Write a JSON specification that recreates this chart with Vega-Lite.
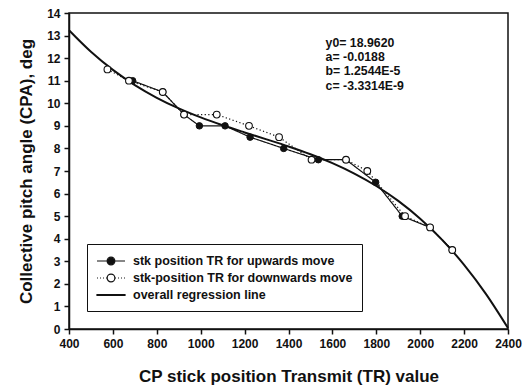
{
  "$schema": "https://vega.github.io/schema/vega-lite/v6.json",
  "width": 439,
  "height": 316,
  "autosize": {"type": "none"},
  "padding": {"left": 69, "top": 13, "right": 18, "bottom": 57},
  "background": "white",
  "config": {
    "font": "Arial, Liberation Sans, sans-serif",
    "view": {"stroke": "#111", "strokeWidth": 1.5},
    "axis": {
      "domainColor": "#111",
      "domainWidth": 1.5,
      "tickColor": "#111",
      "tickWidth": 1.5,
      "tickSize": 5,
      "grid": false,
      "labelFontSize": 12,
      "labelFontWeight": "bold",
      "labelColor": "#111",
      "labelFlush": false,
      "labelPadding": 4,
      "titleFontSize": 17,
      "titleFontWeight": "bold",
      "titleColor": "#111"
    },
    "legend": {
      "title": null,
      "orient": "none",
      "legendX": 18,
      "legendY": 231,
      "strokeColor": "#111",
      "fillColor": "white",
      "padding": 9,
      "rowPadding": 2,
      "symbolSize": 196,
      "symbolStrokeWidth": 1.2,
      "labelOffset": 21,
      "labelFontSize": 12.5,
      "labelFontWeight": "bold",
      "labelColor": "#111",
      "labelLimit": 400
    }
  },
  "data": {
    "values": [
      {"s": "overall regression line", "x": 400, "y": 13.2358},
      {"s": "overall regression line", "x": 500, "y": 12.2816},
      {"s": "overall regression line", "x": 600, "y": 11.4783},
      {"s": "overall regression line", "x": 700, "y": 10.8059},
      {"s": "overall regression line", "x": 800, "y": 10.2445},
      {"s": "overall regression line", "x": 900, "y": 9.7741},
      {"s": "overall regression line", "x": 1000, "y": 9.3746},
      {"s": "overall regression line", "x": 1100, "y": 9.0262},
      {"s": "overall regression line", "x": 1200, "y": 8.7087},
      {"s": "overall regression line", "x": 1300, "y": 8.4023},
      {"s": "overall regression line", "x": 1400, "y": 8.0869},
      {"s": "overall regression line", "x": 1500, "y": 7.7425},
      {"s": "overall regression line", "x": 1600, "y": 7.3492},
      {"s": "overall regression line", "x": 1700, "y": 6.887},
      {"s": "overall regression line", "x": 1800, "y": 6.3358},
      {"s": "overall regression line", "x": 1900, "y": 5.6758},
      {"s": "overall regression line", "x": 2000, "y": 4.8868},
      {"s": "overall regression line", "x": 2100, "y": 3.9489},
      {"s": "overall regression line", "x": 2200, "y": 2.8422},
      {"s": "overall regression line", "x": 2300, "y": 1.5466},
      {"s": "overall regression line", "x": 2400, "y": 0.0422},

      {"s": "stk position TR for upwards move", "x": 690, "y": 11},
      {"s": "stk position TR for upwards move", "x": 827, "y": 10.5},
      {"s": "stk position TR for upwards move", "x": 924, "y": 9.5},
      {"s": "stk position TR for upwards move", "x": 994, "y": 9},
      {"s": "stk position TR for upwards move", "x": 1111, "y": 9},
      {"s": "stk position TR for upwards move", "x": 1225, "y": 8.5},
      {"s": "stk position TR for upwards move", "x": 1378, "y": 8},
      {"s": "stk position TR for upwards move", "x": 1536, "y": 7.5},
      {"s": "stk position TR for upwards move", "x": 1662, "y": 7.5},
      {"s": "stk position TR for upwards move", "x": 1797, "y": 6.5},
      {"s": "stk position TR for upwards move", "x": 1918, "y": 5},
      {"s": "stk position TR for upwards move", "x": 2045, "y": 4.5},
      {"s": "stk position TR for upwards move", "x": 2146, "y": 3.5},

      {"s": "stk-position TR for downwards move", "x": 575, "y": 11.5},
      {"s": "stk-position TR for downwards move", "x": 673, "y": 11},
      {"s": "stk-position TR for downwards move", "x": 827, "y": 10.5},
      {"s": "stk-position TR for downwards move", "x": 924, "y": 9.5},
      {"s": "stk-position TR for downwards move", "x": 1073, "y": 9.5},
      {"s": "stk-position TR for downwards move", "x": 1220, "y": 9},
      {"s": "stk-position TR for downwards move", "x": 1357, "y": 8.5},
      {"s": "stk-position TR for downwards move", "x": 1505, "y": 7.5},
      {"s": "stk-position TR for downwards move", "x": 1662, "y": 7.5},
      {"s": "stk-position TR for downwards move", "x": 1759, "y": 7},
      {"s": "stk-position TR for downwards move", "x": 1931, "y": 5},
      {"s": "stk-position TR for downwards move", "x": 2045, "y": 4.5},
      {"s": "stk-position TR for downwards move", "x": 2146, "y": 3.5}
    ]
  },
  "layer": [
    {
      "encoding": {
        "x": {
          "field": "x",
          "type": "quantitative",
          "scale": {"domain": [400, 2400], "nice": false, "zero": false},
          "axis": {
            "values": [400, 600, 800, 1000, 1200, 1400, 1600, 1800, 2000, 2200, 2400],
            "format": "d",
            "titlePadding": 19,
            "title": "CP stick position Transmit (TR) value"
          }
        },
        "y": {
          "field": "y",
          "type": "quantitative",
          "scale": {"domain": [0, 14], "nice": false},
          "axis": {
            "values": [0, 1, 2, 3, 4, 5, 6, 7, 8, 9, 10, 11, 12, 13, 14],
            "titlePadding": 11,
            "title": "Collective pitch angle (CPA), deg"
          }
        }
      },
      "layer": [
        {
          "transform": [{"filter": "datum.s === 'overall regression line'"}],
          "mark": {"type": "line", "interpolate": "monotone", "stroke": "#111", "strokeWidth": 2}
        },
        {
          "transform": [{"filter": "datum.s !== 'overall regression line'"}],
          "mark": {"type": "line", "stroke": "#111", "strokeWidth": 1.2},
          "encoding": {
            "strokeDash": {
              "field": "s",
              "type": "nominal",
              "scale": {
                "domain": ["stk position TR for upwards move", "stk-position TR for downwards move"],
                "range": [[1, 0], [1.2, 2.4]]
              },
              "legend": null
            }
          }
        },
        {
          "transform": [{"filter": "datum.s === 'stk position TR for upwards move'"}],
          "mark": {"type": "point", "shape": "circle", "filled": true, "fill": "#111", "stroke": "#111", "strokeWidth": 1, "size": 42, "opacity": 1}
        },
        {
          "transform": [{"filter": "datum.s === 'stk-position TR for downwards move'"}],
          "mark": {"type": "point", "shape": "circle", "filled": false, "fill": "white", "fillOpacity": 1, "stroke": "#111", "strokeWidth": 1.1, "size": 45, "opacity": 1}
        },
        {
          "description": "Legend keys: no rows pass the filter, so only the shape, fill and stroke scales are drawn, in the legend",
          "transform": [{"filter": "datum.s === 'legend key only'"}],
          "mark": {"type": "point", "filled": true, "strokeWidth": 1.2, "size": 196, "opacity": 1},
          "encoding": {
            "shape": {
              "field": "s",
              "type": "nominal",
              "scale": {
                "domain": ["stk position TR for upwards move", "stk-position TR for downwards move", "overall regression line"],
                "range": [
                  "M-1,0L3,0M1.55,0A0.55,0.55 0 1 1 0.45,0A0.55,0.55 0 1 1 1.55,0Z",
                  "M-1,0L-0.86,0M-0.57,0L-0.43,0M-0.14,0L0,0M0.29,0L0.43,0M1.57,0L1.71,0M2,0L2.14,0M2.43,0L2.57,0M2.86,0L3,0M1.55,0A0.55,0.55 0 1 1 0.45,0A0.55,0.55 0 1 1 1.55,0Z",
                  "M-1,-0.06L3,-0.06L3,0.06L-1,0.06Z"
                ]
              }
            },
            "fill": {
              "field": "s",
              "type": "nominal",
              "scale": {
                "domain": ["stk position TR for upwards move", "stk-position TR for downwards move", "overall regression line"],
                "range": ["#111", "white", "#111"]
              }
            },
            "stroke": {
              "field": "s",
              "type": "nominal",
              "scale": {
                "domain": ["stk position TR for upwards move", "stk-position TR for downwards move", "overall regression line"],
                "range": ["#111", "#111", "#111"]
              }
            }
          }
        }
      ]
    },
    {
      "data": {
        "values": [
          {"term": "y0= 18.9620", "k": 0},
          {"term": "a= -0.0188", "k": 1},
          {"term": "b= 1.2544E-5", "k": 2},
          {"term": "c= -3.3314E-9", "k": 3}
        ]
      },
      "mark": {"type": "text", "align": "left", "baseline": "middle", "fontSize": 12.3, "fontWeight": "bold", "fill": "#111", "opacity": 1},
      "encoding": {
        "x": {
          "datum": 1569,
          "type": "quantitative",
          "axis": {
            "values": [400, 600, 800, 1000, 1200, 1400, 1600, 1800, 2000, 2200, 2400],
            "format": "d",
            "titlePadding": 19,
            "title": "CP stick position Transmit (TR) value"
          }
        },
        "y": {
          "datum": 12.685,
          "type": "quantitative",
          "axis": {
            "values": [0, 1, 2, 3, 4, 5, 6, 7, 8, 9, 10, 11, 12, 13, 14],
            "titlePadding": 11,
            "title": "Collective pitch angle (CPA), deg"
          }
        },
        "yOffset": {"field": "k", "type": "quantitative", "scale": {"domain": [0, 3], "range": [0, 43]}},
        "text": {"field": "term", "type": "nominal"}
      }
    }
  ]
}
